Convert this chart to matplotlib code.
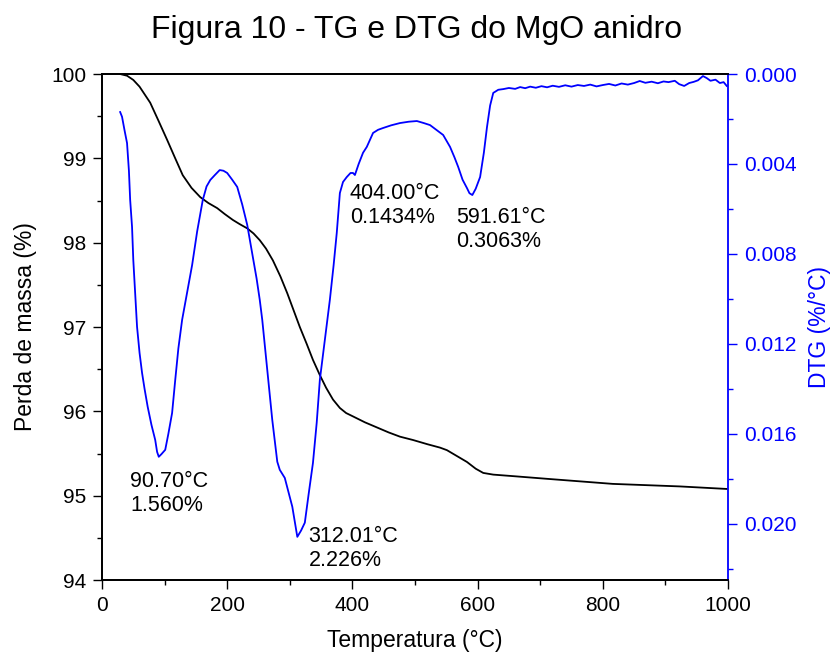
import numpy as np
import matplotlib.pyplot as plt
from matplotlib.ticker import MultipleLocator, FormatStrFormatter

plt.rcParams['font.family'] = ['Liberation Sans', 'DejaVu Sans']

# curva TG (perda de massa, %)
tg_temp = [29, 40, 50, 60, 77, 90, 104, 117, 129, 143, 157, 170, 184, 196, 209,
           220, 232, 242, 252, 262, 273, 285, 296, 306, 316, 327, 337, 348, 358,
           369, 380, 390, 401, 420, 439, 458, 476, 497, 520, 540, 551, 567, 583,
           597, 609, 625, 660, 711, 816, 923, 998]
tg_massa = [100.00, 99.98, 99.93, 99.85, 99.66, 99.45, 99.22, 99.00, 98.80, 98.65,
            98.54, 98.47, 98.41, 98.34, 98.27, 98.22, 98.17, 98.11, 98.03, 97.93,
            97.79, 97.60, 97.40, 97.20, 97.00, 96.80, 96.61, 96.43, 96.28, 96.14,
            96.04, 95.98, 95.94, 95.87, 95.81, 95.75, 95.70, 95.66, 95.61, 95.57,
            95.54, 95.47, 95.40, 95.32, 95.27, 95.25, 95.23, 95.20, 95.14, 95.11,
            95.08]

# curva DTG (%/°C)
dtg_temp = [29, 32, 36, 40, 43, 45, 48, 50, 53, 56, 60, 64, 68, 73, 79, 85, 88,
            90.7, 95, 101, 106, 112, 117, 122, 128, 136, 144, 152, 161, 167, 173,
            180, 188, 194, 200, 208, 216, 224, 232, 241, 247, 252, 256, 264, 272,
            280, 284, 292, 304, 312.01, 318, 324, 330, 337, 343, 348, 356, 364,
            370, 375, 378, 380, 385, 391, 397, 401, 404, 410, 417, 423, 433, 441,
            449, 462, 476, 490, 503, 514, 524, 535, 545, 556, 563, 569, 576, 583,
            587, 591.61, 597, 604, 610, 615, 620, 625, 633, 641, 650, 660, 668,
            676, 684, 693, 702, 711, 720, 730, 740, 750, 760, 770, 780, 790, 800,
            810, 820, 830, 840, 850, 859, 868, 878, 888, 897, 905, 915, 922, 930,
            938, 945, 952, 960, 966, 972, 980, 987, 993, 998]
dtg = [0.00169, 0.00190, 0.00250, 0.00307, 0.00430, 0.00560, 0.00680, 0.00827,
       0.00980, 0.01124, 0.01240, 0.01329, 0.01400, 0.01480, 0.01560, 0.01627,
       0.01680, 0.01702, 0.01690, 0.01671, 0.01600, 0.01507, 0.01360, 0.01220,
       0.01093, 0.00970, 0.00849, 0.00700, 0.00560, 0.00500, 0.00471, 0.00450,
       0.00427, 0.00430, 0.00440, 0.00470, 0.00502, 0.00580, 0.00671, 0.00813,
       0.00910, 0.01004, 0.01093, 0.01316, 0.01538, 0.01724, 0.01760, 0.01796,
       0.01924, 0.02058, 0.02030, 0.01995, 0.01870, 0.01729, 0.01550, 0.01360,
       0.01180, 0.01004, 0.00850, 0.00707, 0.00600, 0.00529, 0.00480, 0.00458,
       0.00440, 0.00440, 0.00449, 0.00400, 0.00350, 0.00324, 0.00262, 0.00248,
       0.00240, 0.00228, 0.00218, 0.00212, 0.00209, 0.00218, 0.00227, 0.00250,
       0.00271, 0.00324, 0.00370, 0.00413, 0.00470, 0.00507, 0.00530, 0.00538,
       0.00510, 0.00458, 0.00350, 0.00236, 0.00140, 0.00084, 0.00070, 0.00067,
       0.00062, 0.00066, 0.00058, 0.00063, 0.00056, 0.00061, 0.00054, 0.00059,
       0.00052, 0.00057, 0.00050, 0.00056, 0.00049, 0.00053, 0.00047, 0.00055,
       0.00049, 0.00044, 0.00051, 0.00042, 0.00047, 0.00040, 0.00031, 0.00039,
       0.00034, 0.00041, 0.00033, 0.00036, 0.00030, 0.00045, 0.00053, 0.00040,
       0.00035, 0.00028, 0.00009, 0.00018, 0.00030, 0.00025, 0.00040, 0.00036,
       0.00053]

# picos do DTG e textos
pico_temp = [90.70, 312.01, 404.00, 591.61]
pico_perda = ['1.560%', '2.226%', '0.1434%', '0.3063%']
texto_pos = [(45, 95.29), (330, 94.64), (396, 98.71), (565, 98.42)]

fig = plt.figure(figsize=(8.34, 6.61), dpi=100)
ax = fig.add_axes([0.1223, 0.1225, 0.7506, 0.7655])
ax2 = ax.twinx()

ax.plot(tg_temp, tg_massa, color='black', lw=1.3)
ax2.plot(dtg_temp, dtg, color='blue', lw=1.3)

ax.set_xlim(0, 1000)
ax.set_ylim(94, 100)
ax2.set_ylim(0.0225, 0.0)

ax.xaxis.set_major_locator(MultipleLocator(200))
ax.xaxis.set_minor_locator(MultipleLocator(100))
ax.yaxis.set_major_locator(MultipleLocator(1))
ax.yaxis.set_minor_locator(MultipleLocator(0.5))
ax2.yaxis.set_major_locator(MultipleLocator(0.004))
ax2.yaxis.set_minor_locator(MultipleLocator(0.002))
ax2.yaxis.set_major_formatter(FormatStrFormatter('%.3f'))

ax.tick_params(which='both', direction='out', labelsize=15, width=1, pad=5)
ax.tick_params(which='major', length=6.5)
ax.tick_params(which='minor', length=3.5)
ax2.tick_params(which='both', direction='out', labelsize=15, width=1,
                colors='blue', pad=5)
ax2.tick_params(which='major', length=6.5)
ax2.tick_params(which='minor', length=3.5)

for s in ['left', 'bottom', 'top']:
    ax.spines[s].set_linewidth(1.3)
    ax2.spines[s].set_linewidth(1.3)
ax2.spines['right'].set_color('blue')
ax2.spines['right'].set_linewidth(1.3)
ax.spines['right'].set_visible(False)

ax.set_xlabel('Temperatura (°C)', fontsize=16.5, labelpad=10)
ax.set_ylabel('Perda de massa (%)', fontsize=16.5, labelpad=10)
ax2.set_ylabel('DTG (%/°C)', fontsize=16.5, color='blue', labelpad=8)

for t, p, (x, y) in zip(pico_temp, pico_perda, texto_pos):
    ax.text(x, y, f'{t:.2f}°C\n{p}', fontsize=15.5, va='top', ha='left',
            linespacing=1.2)

fig.suptitle('Figura 10 - TG e DTG do MgO anidro', fontsize=23, y=0.978)

fig.savefig('out.png', dpi=100)
